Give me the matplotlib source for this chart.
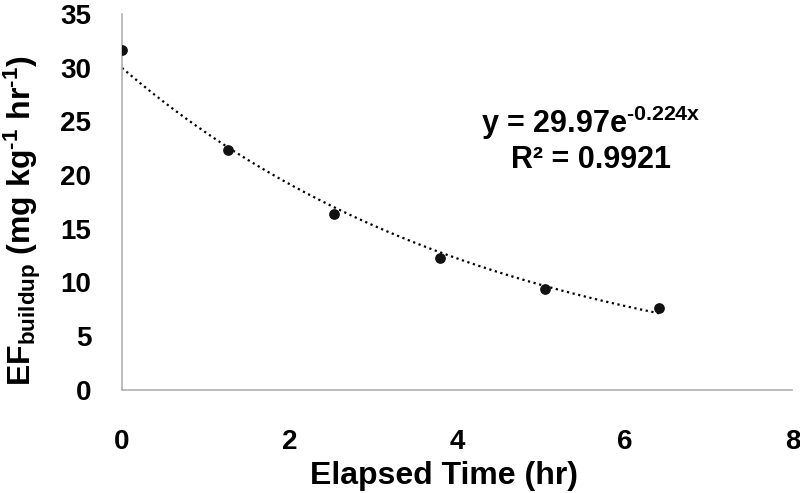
import numpy as np
import matplotlib
matplotlib.use("Agg")
import matplotlib.pyplot as plt

plt.rcParams['font.family'] = ['Liberation Sans', 'DejaVu Sans']
plt.rcParams['mathtext.fontset'] = 'custom'
plt.rcParams['mathtext.rm'] = 'Liberation Sans:bold'
plt.rcParams['mathtext.it'] = 'Liberation Sans:bold'
plt.rcParams['mathtext.bf'] = 'Liberation Sans:bold'

# data
elapsed_hr = [0.0, 1.27, 2.53, 3.80, 5.05, 6.41]
ef_buildup = [31.6, 22.3, 16.4, 12.3, 9.4, 7.6]
fit_a = 29.97
fit_b = -0.224
x_ticks = [0, 2, 4, 6, 8]
y_ticks = [0, 5, 10, 15, 20, 25, 30, 35]

fig = plt.figure(figsize=(8, 4.93), dpi=100)
ax = fig.add_axes([0.1525, 0.209, 0.838, 0.763])

xx = np.linspace(0, max(elapsed_hr), 200)
ax.plot(xx, fit_a * np.exp(fit_b * xx), color='black', linestyle=(0, (1, 1.6)),
        linewidth=1.6, zorder=2)
ax.scatter(elapsed_hr, ef_buildup, s=45, color='#111111', zorder=3)

ax.set_xlim(0, 8)
ax.set_ylim(0, 35)
ax.set_xticks(x_ticks)
ax.set_yticks(y_ticks)
ax.tick_params(length=0, labelsize=20, pad=28)
ax.tick_params(axis='y', pad=22)
for lab in ax.get_xticklabels() + ax.get_yticklabels():
    lab.set_fontweight('bold')

for s in ['top', 'right']:
    ax.spines[s].set_visible(False)
for s in ['left', 'bottom']:
    ax.spines[s].set_color('#b0b0b0')
    ax.spines[s].set_linewidth(1.2)

ax.set_xlabel('Elapsed Time (hr)', fontsize=23, fontweight='bold')
ax.xaxis.set_label_coords(0.48, -0.188)
ax.set_ylabel(r'EF$_{buildup}$ (mg kg$^{\text{-}1}$ hr$^{\text{-}1}$)', fontsize=23,
              fontweight='bold')
ax.yaxis.set_label_coords(-0.118, 0.45)

ax.text(5.6, 24.9, r'y = 29.97e$^{\text{-}0.224x}$', fontsize=22, fontweight='bold',
        ha='center', va='center')
ax.text(5.6, 21.4, 'R² = 0.9921', fontsize=22, fontweight='bold',
        ha='center', va='center')

fig.savefig('out.png', dpi=100)
